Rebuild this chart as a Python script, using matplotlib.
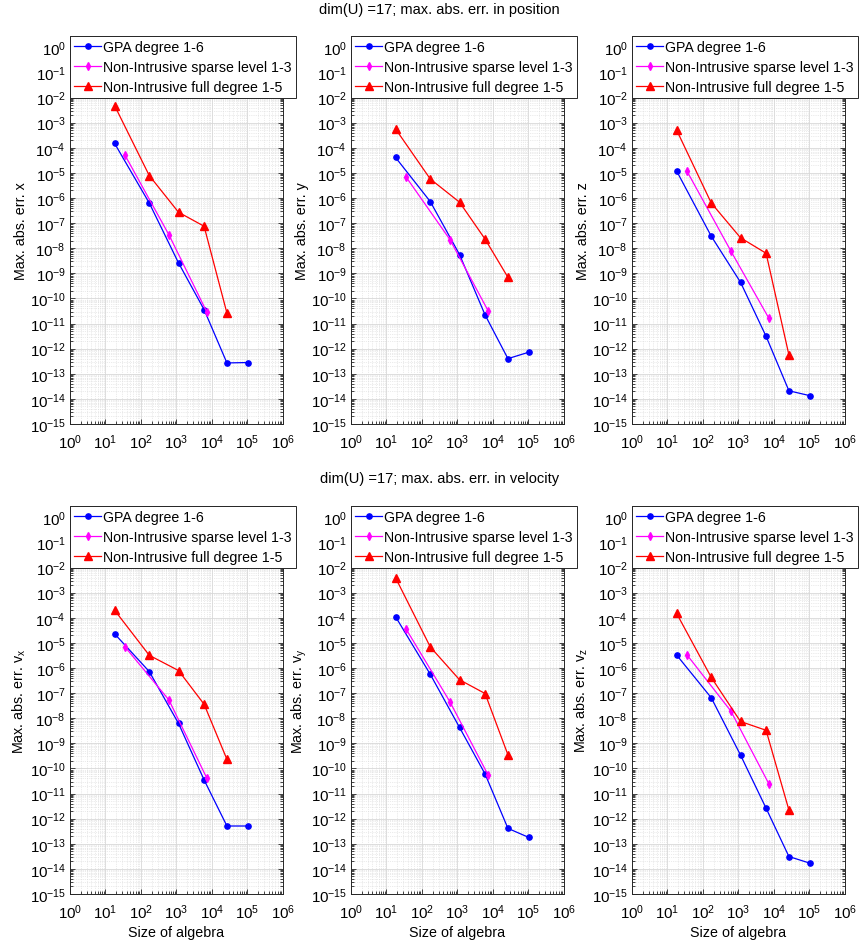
import numpy as np
import matplotlib.pyplot as plt
from matplotlib.ticker import LogLocator, NullFormatter

plt.rcParams['font.family'] = ['Liberation Sans', 'DejaVu Sans']
plt.rcParams['mathtext.fontset'] = 'custom'
plt.rcParams['mathtext.rm'] = 'Liberation Sans'
plt.rcParams['mathtext.it'] = 'Liberation Sans:italic'

# size of algebra for each method (dim(U) = 17)
n_gpa = [18, 171, 1140, 5985, 26334, 100947]
n_sparse = [35, 613, 7209]
n_full = [18, 171, 1140, 5985, 26334]

# max. abs. error, position components
gpa_x = [1.5e-4, 6.3e-7, 2.6e-9, 3.6e-11, 2.7e-13, 2.8e-13]
sparse_x = [5.2e-5, 3.4e-8, 2.8e-11]
full_x = [4.8e-3, 7.8e-6, 2.7e-7, 7.5e-8, 2.6e-11]

gpa_y = [4.1e-5, 7.2e-7, 5.6e-9, 2.2e-11, 4.0e-13, 7.2e-13]
sparse_y = [7.1e-6, 2.2e-8, 3.3e-11]
full_y = [5.6e-4, 5.7e-6, 6.8e-7, 2.3e-8, 6.9e-10]

gpa_z = [1.2e-5, 3.0e-8, 4.4e-10, 3.1e-12, 2.1e-14, 1.35e-14]
sparse_z = [1.2e-5, 7.6e-9, 1.6e-11]
full_z = [5.1e-4, 6.3e-7, 2.6e-8, 6.3e-9, 5.6e-13]

# max. abs. error, velocity components
gpa_vx = [2.3e-5, 7.2e-7, 6.2e-9, 3.5e-11, 5.1e-13, 5.1e-13]
sparse_vx = [7.1e-6, 5.3e-8, 4.0e-11]
full_vx = [2.0e-4, 3.2e-6, 7.9e-7, 3.6e-8, 2.3e-10]

gpa_vy = [1.1e-4, 5.6e-7, 4.3e-9, 6.0e-11, 4.1e-13, 1.8e-13]
sparse_vy = [3.7e-5, 4.5e-8, 5.6e-11]
full_vy = [3.9e-3, 6.9e-6, 3.4e-7, 9.6e-8, 3.5e-10]

gpa_vz = [3.3e-6, 6.5e-8, 3.4e-10, 2.6e-12, 3.1e-14, 1.7e-14]
sparse_vz = [3.4e-6, 1.9e-8, 2.4e-11]
full_vz = [1.5e-4, 4.2e-7, 7.4e-9, 3.3e-9, 2.2e-12]

panels = [
    ('Max. abs. err. x', gpa_x, sparse_x, full_x),
    ('Max. abs. err. y', gpa_y, sparse_y, full_y),
    ('Max. abs. err. z', gpa_z, sparse_z, full_z),
    ('Max. abs. err. v$_\\mathrm{x}$', gpa_vx, sparse_vx, full_vx),
    ('Max. abs. err. v$_\\mathrm{y}$', gpa_vy, sparse_vy, full_vy),
    ('Max. abs. err. v$_\\mathrm{z}$', gpa_vz, sparse_vz, full_vz),
]

W, H = 862, 945
fig = plt.figure(figsize=(W / 100, H / 100), dpi=100)

lefts = [70, 351, 632]
bottoms = [425, 895]  # pixel rows of the axes bottoms, measured from the top
aw, ah = 213, 388

for i, (ylab, g, s, f) in enumerate(panels):
    row, col = divmod(i, 3)
    ax = fig.add_axes([lefts[col] / W, (H - bottoms[row]) / H, aw / W, ah / H])
    ax.plot(n_gpa, g, '-o', color='#0000ff', lw=0.9, ms=3.8, label='GPA degree 1-6')
    ax.plot(n_sparse, s, '-d', color='#ff00ff', lw=0.9, ms=4.2, label='Non-Intrusive sparse level 1-3')
    ax.plot(n_full, f, '-^', color='#ff0000', lw=0.9, ms=5.5, label='Non-Intrusive full degree 1-5')
    ax.set_xscale('log')
    ax.set_yscale('log')
    ax.set_xlim(1, 1e6)
    ax.set_ylim(1e-15, 10 ** 0.45)

    ax.xaxis.set_major_locator(LogLocator(base=10, numticks=20))
    ax.set_yticks([10.0 ** k for k in range(-15, 1)])
    ax.xaxis.set_minor_locator(LogLocator(base=10, subs=np.arange(2, 10), numticks=30))
    ax.yaxis.set_minor_locator(LogLocator(base=10, subs=np.arange(2, 10), numticks=30))
    ax.xaxis.set_minor_formatter(NullFormatter())
    ax.yaxis.set_minor_formatter(NullFormatter())
    ax.tick_params(which='both', direction='in', top=True, right=True,
                   labelsize=10.8, color='#262626', width=0.6)
    ax.tick_params(which='major', length=3.5)
    ax.tick_params(which='minor', length=2)
    ax.tick_params(axis='x', which='major', pad=6)
    ax.tick_params(axis='y', which='major', pad=3)

    ax.grid(True, which='major', color='#d8d8d8', lw=0.6)
    ax.grid(True, which='minor', color='#d8d8d8', lw=0.5, ls=':')
    ax.set_axisbelow(True)
    for sp in ax.spines.values():
        sp.set_color('#262626')
        sp.set_linewidth(0.7)

    ax.set_ylabel(ylab, fontsize=10.3, labelpad=1)
    if row == 1:
        ax.set_xlabel('Size of algebra', fontsize=10.3, labelpad=3)

    leg = ax.legend(loc='upper left', bbox_to_anchor=(0, 1), borderaxespad=0,
                    fancybox=False, framealpha=1, edgecolor='#262626',
                    fontsize=10.2, handlelength=1.9, handletextpad=0.12,
                    borderpad=0.3, labelspacing=0.4)
    leg.get_frame().set_linewidth(0.7)
    leg.set_zorder(10)

fig.text(439 / W, 1 - 10 / H, 'dim(U) =17; max. abs. err. in position',
         ha='center', va='center', fontsize=10.5)
fig.text(440 / W, 1 - 479 / H, 'dim(U) =17; max. abs. err. in velocity',
         ha='center', va='center', fontsize=10.5)

fig.savefig('out.png', dpi=100)
